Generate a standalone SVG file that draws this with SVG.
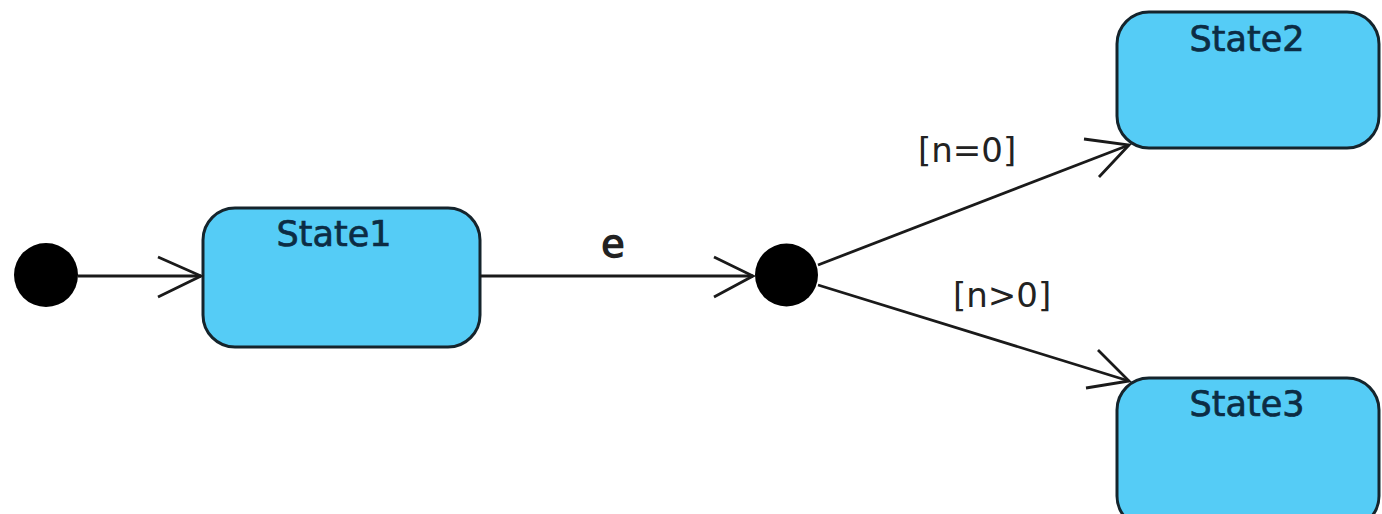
<svg xmlns="http://www.w3.org/2000/svg" width="1382" height="514" viewBox="0 0 1382 514">
<style>
.state{fill:#55ccf6;stroke:#15242c;stroke-width:3}
.title{font-family:"DejaVu Sans","Liberation Sans",sans-serif;font-size:35px;fill:#0c2c44;stroke:#0c2c44;stroke-width:0.7;text-anchor:middle}
.lbl{font-family:"DejaVu Sans","Liberation Sans",sans-serif;font-size:34px;fill:#222}
.edge{fill:none;stroke:#1a1a1a;stroke-width:2.8}
.head{fill:none;stroke:#1a1a1a;stroke-width:2.8;stroke-linejoin:miter}
</style>
<rect width="1382" height="514" fill="#ffffff"/>
<g id="initial"><circle cx="46" cy="275" r="32" fill="#000"/></g>
<g id="state1"><rect class="state" x="203" y="208" width="277" height="139" rx="32"/><text class="title" x="334" y="246">State1</text></g>
<g id="decision"><circle cx="786.5" cy="275" r="31.5" fill="#000"/></g>
<g id="state2"><rect class="state" x="1117" y="12" width="262" height="136" rx="32"/><text class="title" x="1247" y="51">State2</text></g>
<g id="state3"><rect class="state" x="1117" y="378" width="262" height="150" rx="32"/><text class="title" x="1247" y="416">State3</text></g>
<g id="connectors">
<line class="edge" x1="78" y1="276" x2="201" y2="276"/>
<polyline class="head" points="158,257 201,276 158,297"/>
<line class="edge" x1="480" y1="276" x2="753" y2="276"/>
<polyline class="head" points="714,257 753,276 714,297"/>
<line class="edge" x1="818" y1="265" x2="1129" y2="145"/>
<polyline class="head" points="1084,139 1129,145 1099,177"/>
<line class="edge" x1="818" y1="285" x2="1129" y2="381"/>
<polyline class="head" points="1098,350 1129,381 1086,388"/>
<text class="lbl" x="613" y="257" text-anchor="middle" stroke="#222" stroke-width="1.4" style="font-size:38px">e</text>
<text class="lbl" x="918" y="162">[n=0]</text>
<text class="lbl" x="953" y="307">[n&gt;0]</text>
</g>
</svg>
